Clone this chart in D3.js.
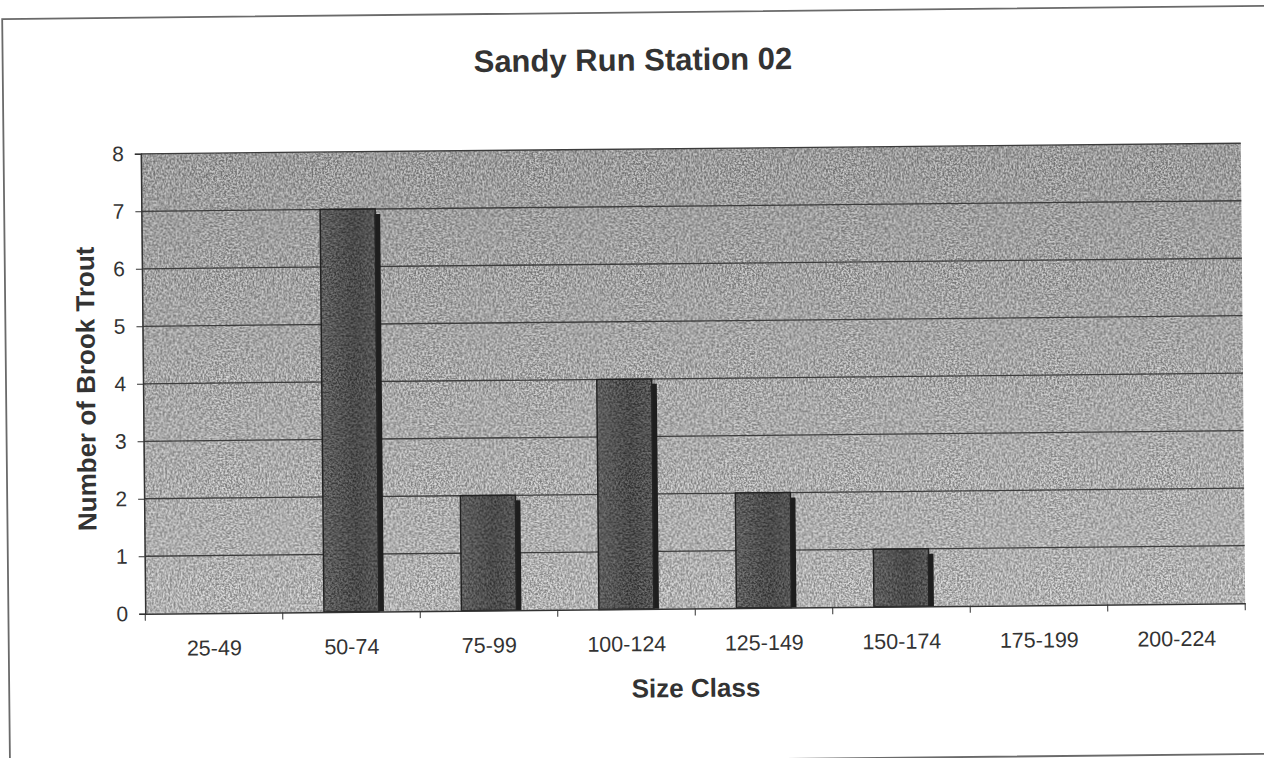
<!DOCTYPE html>
<html>
<head>
<meta charset="utf-8">
<script src="https://cdn.jsdelivr.net/npm/d3@7"></script>
<style>
  body { margin: 0; background: #fff; }
  text { font-family: "Liberation Sans", Arial, sans-serif; fill: #333; }
</style>
</head>
<body>
<div id="chart"></div>
<script>
// size classes (mm) and counts
var sizeClasses = ["25-49", "50-74", "75-99", "100-124", "125-149", "150-174", "175-199", "200-224"];
var troutCounts = [0, 7, 2, 4, 2, 1, 0, 0];
var yTicks = [0, 1, 2, 3, 4, 5, 6, 7, 8];

var W = 1264, H = 758;
var margin = {top: 148.5, right: 21, bottom: 149.5, left: 143};
var width = W - margin.left - margin.right,
    height = H - margin.top - margin.bottom;
var cx = margin.left + width / 2, cy = margin.top + height / 2;

var svg = d3.select("#chart").append("svg")
  .attr("width", W)
  .attr("height", H);

// grainy scan look: source + scaled noise, clipped to the shape
var defs = svg.append("defs");
function grainFilter(id, amount, seed) {
  var f = defs.append("filter").attr("id", id)
    .attr("x", 0).attr("y", 0).attr("width", 1).attr("height", 1)
    .attr("color-interpolation-filters", "sRGB");
  f.append("feTurbulence")
    .attr("type", "fractalNoise")
    .attr("baseFrequency", 0.55)
    .attr("numOctaves", 2)
    .attr("seed", seed)
    .attr("result", "noise");
  f.append("feColorMatrix")
    .attr("in", "noise")
    .attr("type", "matrix")
    .attr("values", "2.4 0 0 0 -0.7  2.4 0 0 0 -0.7  2.4 0 0 0 -0.7  0 0 0 0 1")
    .attr("result", "gray");
  f.append("feComposite")
    .attr("in", "SourceGraphic").attr("in2", "gray")
    .attr("operator", "arithmetic")
    .attr("k1", 0).attr("k2", 1).attr("k3", amount).attr("k4", -amount / 2)
    .attr("result", "mixed");
  f.append("feComposite")
    .attr("in", "mixed").attr("in2", "SourceGraphic")
    .attr("operator", "in");
}
grainFilter("grain", 0.36, 3);
grainFilter("grainBar", 0.24, 7);

var bgGrad = defs.append("linearGradient").attr("id", "bgGrad")
  .attr("x1", 0).attr("y1", 0).attr("x2", 0).attr("y2", 1);
bgGrad.append("stop").attr("offset", "0%").attr("stop-color", "#9b9b9b");
bgGrad.append("stop").attr("offset", "45%").attr("stop-color", "#a6a6a6");
bgGrad.append("stop").attr("offset", "100%").attr("stop-color", "#b2b2b2");

var barGrad = defs.append("linearGradient").attr("id", "barGrad")
  .attr("x1", 0).attr("y1", 0).attr("x2", 1).attr("y2", 0);
barGrad.append("stop").attr("offset", "0%").attr("stop-color", "#5e5e5e");
barGrad.append("stop").attr("offset", "60%").attr("stop-color", "#4a4a4a");
barGrad.append("stop").attr("offset", "100%").attr("stop-color", "#555");

// outer frame of the chart object
svg.append("rect")
  .attr("x", 6).attr("y", 12.5).attr("width", 1290).attr("height", 748)
  .attr("fill", "none")
  .attr("stroke", "#6a6a6a")
  .attr("stroke-width", 1.8)
  .attr("transform", "rotate(-0.6,632,380)");

// the scan is tilted a little
var root = svg.append("g")
  .attr("transform", "rotate(-0.55," + cx + "," + cy + ")");

var g = root.append("g")
  .attr("transform", "translate(" + margin.left + "," + margin.top + ")");

var x = d3.scaleBand().domain(sizeClasses).range([0, width]).paddingInner(0).paddingOuter(0);
var y = d3.scaleLinear().domain([0, 8]).range([height, 0]);

// plot area
g.append("rect")
  .attr("width", width).attr("height", height)
  .attr("fill", "url(#bgGrad)")
  .attr("filter", "url(#grain)");

// gridlines
g.append("g").attr("class", "grid")
  .selectAll("line")
  .data(yTicks.filter(function(d) { return d > 0; }))
  .enter().append("line")
  .attr("x1", 0).attr("x2", width)
  .attr("y1", function(d) { return y(d); })
  .attr("y2", function(d) { return y(d); })
  .attr("stroke", "#3c3c3c")
  .attr("stroke-width", 1.3);

// bars: shadow then body (gap width 150%)
var barW = x.bandwidth() / 2.5;
var bars = g.append("g").selectAll("g.bar")
  .data(sizeClasses.map(function(c, i) { return {cls: c, n: troutCounts[i]}; })
    .filter(function(d) { return d.n > 0; }))
  .enter().append("g").attr("class", "bar");

bars.append("rect")
  .attr("x", function(d) { return x(d.cls) + (x.bandwidth() - barW) / 2 + 5; })
  .attr("y", function(d) { return y(d.n) + 5; })
  .attr("width", barW)
  .attr("height", function(d) { return height - y(d.n) - 5; })
  .attr("fill", "#1e1e1e");

bars.append("rect")
  .attr("x", function(d) { return x(d.cls) + (x.bandwidth() - barW) / 2; })
  .attr("y", function(d) { return y(d.n); })
  .attr("width", barW)
  .attr("height", function(d) { return height - y(d.n); })
  .attr("fill", "url(#barGrad)")
  .attr("filter", "url(#grainBar)");

bars.append("rect")
  .attr("x", function(d) { return x(d.cls) + (x.bandwidth() - barW) / 2; })
  .attr("y", function(d) { return y(d.n); })
  .attr("width", barW)
  .attr("height", function(d) { return height - y(d.n); })
  .attr("fill", "none")
  .attr("stroke", "#222")
  .attr("stroke-width", 1.5);

// axes
var yAxis = g.append("g")
  .call(d3.axisLeft(y).tickValues(yTicks).tickSize(6).tickPadding(11).tickFormat(d3.format("d")));
yAxis.select(".domain").attr("stroke", "#333").attr("stroke-width", 1.5);
yAxis.selectAll(".tick line").attr("stroke", "#333");
yAxis.selectAll("text").attr("font-size", 21).attr("fill", "#3a3a3a");

var xAxis = g.append("g")
  .attr("transform", "translate(0," + height + ")")
  .call(d3.axisBottom(x).tickSize(0).tickPadding(27));
xAxis.select(".domain").attr("stroke", "#333").attr("stroke-width", 1.5);
xAxis.selectAll("text").attr("font-size", 21.5).attr("fill", "#3a3a3a");

// tick marks between categories
xAxis.append("g").selectAll("line")
  .data(d3.range(sizeClasses.length + 1))
  .enter().append("line")
  .attr("x1", function(i) { return i * x.step(); })
  .attr("x2", function(i) { return i * x.step(); })
  .attr("y1", 0).attr("y2", 7)
  .attr("stroke", "#333");

// titles
root.append("text")
  .attr("x", 636).attr("y", 70)
  .attr("text-anchor", "middle")
  .attr("font-size", 31).attr("font-weight", "bold")
  .text("Sandy Run Station 02");

root.append("text")
  .attr("x", 693).attr("y", 697)
  .attr("text-anchor", "middle")
  .attr("font-size", 26).attr("font-weight", "bold")
  .text("Size Class");

root.append("text")
  .attr("transform", "translate(95,383) rotate(-90)")
  .attr("text-anchor", "middle")
  .attr("font-size", 26).attr("font-weight", "bold")
  .text("Number of Brook Trout");
</script>
</body>
</html>
